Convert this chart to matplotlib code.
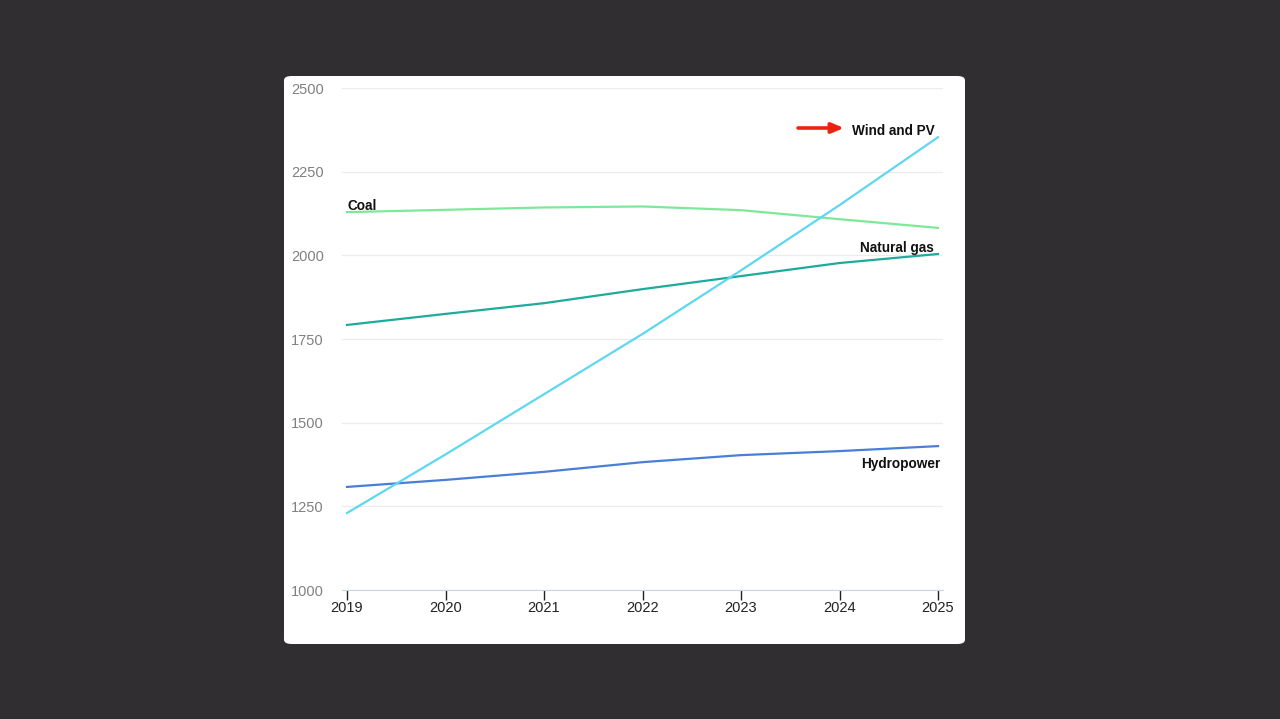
import matplotlib.pyplot as plt
from matplotlib.patches import FancyBboxPatch, FancyArrowPatch

plt.rcParams["font.family"] = ["Liberation Sans", "DejaVu Sans"]

years = [2019, 2020, 2021, 2022, 2023, 2024, 2025]
coal = [2129, 2136, 2143, 2146, 2135, 2108, 2082]
natural_gas = [1792, 1825, 1857, 1899, 1938, 1977, 2004]
wind_pv = [1230, 1405, 1585, 1765, 1955, 2150, 2353]
hydropower = [1308, 1329, 1353, 1382, 1403, 1415, 1430]
y_ticks = [1000, 1250, 1500, 1750, 2000, 2250, 2500]

W, H = 1280, 719
fig = plt.figure(figsize=(W / 100, H / 100), dpi=100)
fig.patch.set_facecolor("#302e31")

# white card behind the chart
card = FancyBboxPatch((284 / W, 1 - 644 / H), (965 - 284) / W, (644 - 76) / H,
                      boxstyle="round,pad=0,rounding_size=0.006",
                      transform=fig.transFigure, facecolor="white",
                      edgecolor="none", zorder=-5)
fig.patches.append(card)

ax = fig.add_axes([342 / W, 1 - 590 / H, (943 - 342) / W, (590 - 88) / H])
ax.set_facecolor("none")

ax.plot(years, coal, color="#7ee89a", lw=1.6, zorder=3)
ax.plot(years, natural_gas, color="#1eab9c", lw=1.6, zorder=3)
ax.plot(years, wind_pv, color="#5fd6f2", lw=1.6, zorder=4)
ax.plot(years, hydropower, color="#4a7fd6", lw=1.6, zorder=3)

pad = 5 / 98.5
ax.set_xlim(years[0] - pad, years[-1] + pad)
ax.set_ylim(1000, 2500)
ax.set_yticks(y_ticks)
ax.set_xticks(years)
ax.grid(axis="y", color="#ececec", lw=0.9)
for s in ["top", "right", "left"]:
    ax.spines[s].set_visible(False)
ax.spines["bottom"].set_color("#c9d6ea")
ax.tick_params(axis="y", length=0, pad=13, labelsize=10.5, labelcolor="#808080")
ax.tick_params(axis="x", length=7, width=1, color="#222222", pad=1,
               labelsize=10.5, labelcolor="#222222")

lab = dict(fontsize=9.8, fontweight="bold", color="#111111", va="center",
           textcoords="offset points")
ax.annotate("Coal", (years[0], coal[0]), xytext=(0, 4.5), ha="left", **lab)
ax.annotate("Natural gas", (years[-1], natural_gas[-1]), xytext=(-3, 4.5),
            ha="right", **lab)
ax.annotate("Hydropower", (years[-1], hydropower[-1]), xytext=(1.5, -13),
            ha="right", **lab)
ax.annotate("Wind and PV", (years[-1], wind_pv[-1]), xytext=(-2, 4.5),
            ha="right", **lab)

arrow = FancyArrowPatch((798 / W, 1 - 128 / H), (844 / W, 1 - 128 / H),
                        transform=fig.transFigure,
                        arrowstyle="-|>,head_length=0.6,head_width=0.25",
                        mutation_scale=12, color="#ee2211", lw=2.6,
                        shrinkA=0, shrinkB=0)
fig.patches.append(arrow)

fig.savefig("out.png", dpi=100, facecolor=fig.get_facecolor())
